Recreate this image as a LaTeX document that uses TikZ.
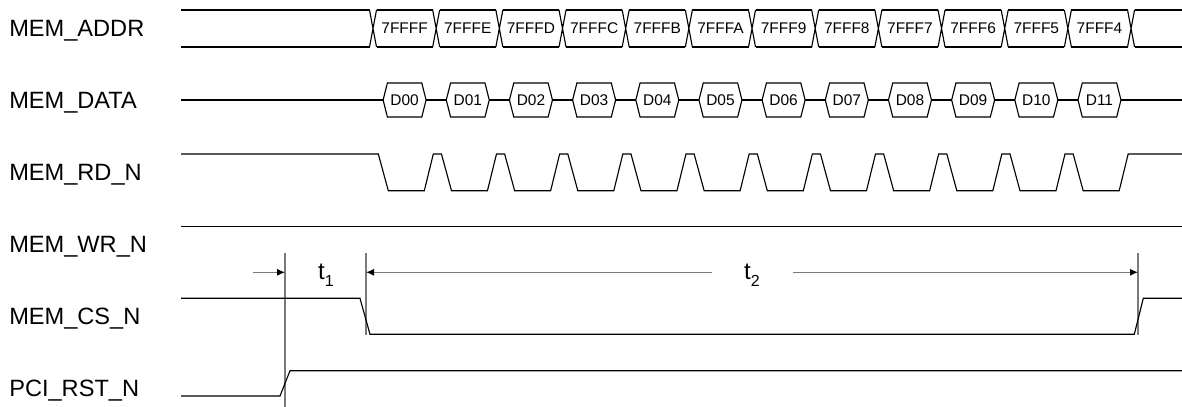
\documentclass[tikz,border=0pt]{standalone}
\usepackage{fontspec}
\setmainfont{Liberation Sans}
\usetikzlibrary{arrows.meta,positioning}
\definecolor{markColor}{HTML}{7A7A7A}
\tikzset{
	signame/.style={anchor=base west, inner sep=0pt, font=\fontsize{17.7}{20}\selectfont},
	wave/.style={line width=0.85pt, black, line join=miter},
	bustext/.style={inner sep=0pt, font=\fontsize{11.6}{13}\selectfont},
	marker/.style={line width=0.9pt, markColor},
	dimline/.style={marker, -{Latex[length=6pt,width=5.4pt,color=black]}},
	tlabel/.style={anchor=base, inner sep=0pt, font=\fontsize{18}{20}\selectfont}
}
\newcommand{\tsub}[1]{t\raisebox{-5.2pt}{\fontsize{12}{12}\selectfont #1}}

\begin{document}
\begin{tikzpicture}[x=0.75pt, y=-0.75pt]
	\useasboundingbox (0,0) rectangle (1182,407);
	% signal names
	\node[signame] (addr) at (9,36.7) {MEM\_ADDR};
	\node[signame] (data) at (9,108.7) {MEM\_DATA};
	\node[signame] (rd) at (9,180.7) {MEM\_RD\_N};
	\node[signame] (wr) at (9,252.7) {MEM\_WR\_N};
	\node[signame] (cs) at (9,324.7) {MEM\_CS\_N};
	\node[signame] (rst) at (9,396.7) {PCI\_RST\_N};
	
	% address bus
	\draw[wave] (181,10) -- (369.5,10) (181,47) -- (369.5,47);
	\foreach \i [evaluate=\i as \c using 373+63.17*\i] in {0,...,12}
		\draw[wave] ({\c-3.5},10) -- ({\c+3.5},47) ({\c-3.5},47) -- ({\c+3.5},10);
	\foreach \a [count=\i from 0, evaluate=\i as \c using 373+63.17*\i] in {7FFFF,7FFFE,7FFFD,7FFFC,7FFFB,7FFFA,7FFF9,7FFF8,7FFF7,7FFF6,7FFF5,7FFF4}{
		\draw[wave] ({\c+3.5},10) -- ({\c+63.17-3.5},10) ({\c+3.5},47) -- ({\c+63.17-3.5},47);
		\node[bustext] (a\i) at ({\c+31.6},28.5) {\a};
	}
	\draw[wave] (1134.5,10) -- (1182,10) (1134.5,47) -- (1182,47);
	
	% data bus
	\draw[wave] (181,100) -- (1182,100);
	\foreach \d [count=\i from 0, evaluate=\i as \m using 404.6+63.17*\i] in {D00,D01,D02,D03,D04,D05,D06,D07,D08,D09,D10,D11}{
		\draw[wave, fill=white] ({\m-21.5},100) -- ({\m-17.2},83) -- ({\m+17.2},83) -- ({\m+21.5},100)
			-- ({\m+17.2},117) -- ({\m-17.2},117) -- cycle;
		\node[bustext] (d\i) at (\m,100) {\d};
	}
	
	% read strobe
	\draw[wave] (181,154) \foreach \i [evaluate=\i as \c using 373+63.17*\i] in {0,...,11}{
		-- ({\c+5.3},154) -- ({\c+15.3},190.7) -- ({\c+51.3},190.7) -- ({\c+60.3},154)} -- (1182,154);
	
	\draw[wave] (181,226.7) -- (1182,226.7);
	
	% timing markers
	\coordinate (v1top) at (285,253);
	\coordinate (v1bot) at (285,407);
	\coordinate (v2top) at (366,253);
	\coordinate (v2bot) at (366,335);
	\coordinate (v3top) at (1138,253);
	\coordinate (v3bot) at (1138,335);
	\draw[marker] (v1top) -- (v1bot);
	\draw[marker] (v2top) -- (v2bot);
	\draw[marker] (v3top) -- (v3bot);
	
	\coordinate (a1) at (253,272.3);
	\coordinate (a2l) at (712,272.3);
	\coordinate (a2r) at (793,272.3);
	\draw[dimline] (a1) -- (a1 -| v1top);
	\draw[dimline] (a2l) -- (a2l -| v2top);
	\draw[dimline] (a2r) -- (a2r -| v3top);
	\node[tlabel] (t1) at (326,279.5) {\tsub{1}};
	\node[tlabel] (t2) at (752,279.5) {\tsub{2}};
	
	% chip select and reset
	\draw[wave] (181,298.3) -- (360,298.3) -- (370,334.3) -- (1134.3,334.3) -- (1143.3,298.3) -- (1182,298.3);
	\draw[wave] (181,396) -- (280,396) -- (290,370.7) -- (1182,370.7);
\end{tikzpicture}
\end{document}
